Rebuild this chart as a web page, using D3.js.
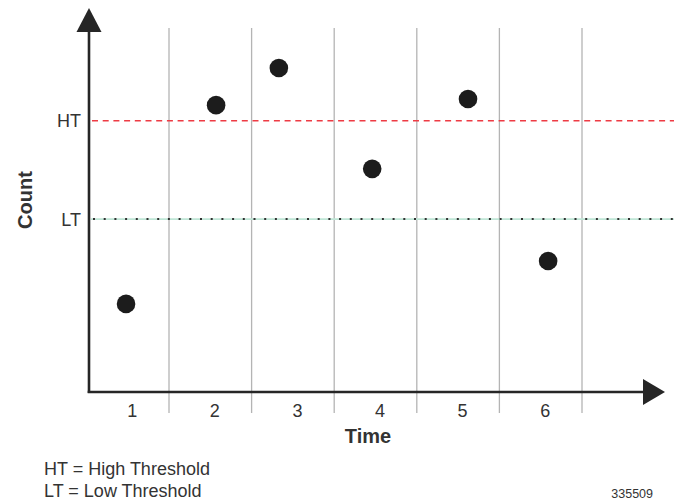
<!DOCTYPE html>
<html>
<head>
<meta charset="utf-8">
<script src="https://cdn.jsdelivr.net/npm/d3@7/dist/d3.min.js"></script>
<style>
  html, body { margin: 0; padding: 0; background: #fff; }
  svg { display: block; font-family: "Liberation Sans", Arial, sans-serif; }
</style>
</head>
<body>
<svg id="chart" width="674" height="503"></svg>
<script>
// ---- data ----
const timeLabels = [1, 2, 3, 4, 5, 6];
const times  = [0.98, 2.07, 2.83, 3.96, 5.12, 6.09];
const counts = [24.2, 78.8, 89.0, 61.3, 80.5, 36.0];
const bandEdges = [1.5, 2.5, 3.5, 4.5, 5.5, 6.5];
const highThreshold = 74.5;
const lowThreshold = 47.5;
const thresholdLabels = ["HT", "LT"];
const legendLines = ["HT = High Threshold", "LT = Low Threshold"];
const figureId = "335509";

// ---- layout ----
const svg = d3.select("#chart");
const axisX = 89, axisY = 392;
const x = d3.scaleLinear().domain([1.5, 6.5]).range([169, 582]);
const y = d3.scaleLinear().domain([0, 100]).range([axisY, 28]);
const ink = "#262626";

// vertical grid lines
svg.append("g").selectAll("line").data(bandEdges).join("line")
  .attr("x1", d => x(d)).attr("x2", d => x(d))
  .attr("y1", y(100)).attr("y2", 413)
  .attr("stroke", "#b4b4b4").attr("stroke-width", 1.3);

// threshold lines
svg.append("line")
  .attr("x1", axisX + 3).attr("x2", 674)
  .attr("y1", y(highThreshold)).attr("y2", y(highThreshold))
  .attr("stroke", "#ee3b44").attr("stroke-width", 1.6)
  .attr("stroke-dasharray", "6,4.7");
svg.append("line")
  .attr("x1", axisX + 2).attr("x2", 674)
  .attr("y1", y(lowThreshold)).attr("y2", y(lowThreshold))
  .attr("stroke", "#bfe6d6").attr("stroke-width", 1.8);
svg.append("line")
  .attr("x1", axisX + 4).attr("x2", 674)
  .attr("y1", y(lowThreshold)).attr("y2", y(lowThreshold))
  .attr("stroke", "#333").attr("stroke-width", 2)
  .attr("stroke-dasharray", "2,8.7");

// threshold labels
svg.append("g").selectAll("text").data([highThreshold, lowThreshold]).join("text")
  .attr("x", 81).attr("y", d => y(d))
  .attr("dy", "0.36em")
  .attr("text-anchor", "end")
  .attr("font-size", 18).attr("fill", "#333")
  .text((d, i) => thresholdLabels[i]);

// axes lines with arrows
svg.append("line").attr("x1", axisX).attr("x2", axisX)
  .attr("y1", axisY + 1).attr("y2", 30)
  .attr("stroke", ink).attr("stroke-width", 2.6);
svg.append("path")
  .attr("d", `M${axisX},8 L${axisX - 12.5},32 L${axisX + 12.5},32 Z`)
  .attr("fill", ink);
svg.append("line").attr("x1", axisX - 1.3).attr("x2", 645)
  .attr("y1", axisY).attr("y2", axisY)
  .attr("stroke", ink).attr("stroke-width", 2.6);
svg.append("path")
  .attr("d", `M665,${axisY} L643,${axisY - 13} L643,${axisY + 13} Z`)
  .attr("fill", ink);

// x tick labels via axis
const xAxis = d3.axisBottom(x).tickValues(timeLabels).tickSize(0).tickPadding(0)
  .tickFormat(d3.format("d"));
const gx = svg.append("g").attr("transform", `translate(4,${axisY})`).call(xAxis);
gx.select(".domain").remove();
gx.selectAll("text")
  .attr("y", 25).attr("dy", 0)
  .attr("font-size", 18).attr("fill", "#333")
  .attr("font-family", "Liberation Sans, Arial, sans-serif");

// points
svg.append("g").selectAll("circle").data(times).join("circle")
  .attr("cx", d => x(d)).attr("cy", (d, i) => y(counts[i]))
  .attr("r", 9.3).attr("fill", "#1c1c1c");

// axis titles
svg.append("text").attr("x", 368).attr("y", 443)
  .attr("text-anchor", "middle").attr("font-weight", "bold")
  .attr("font-size", 20).attr("fill", "#333").text("Time");
svg.append("text")
  .attr("transform", "translate(32,200) rotate(-90)")
  .attr("text-anchor", "middle").attr("font-weight", "bold")
  .attr("font-size", 20).attr("fill", "#333").text("Count");

// legend
svg.append("g").selectAll("text").data(legendLines).join("text")
  .attr("x", 44).attr("y", (d, i) => 475 + i * 21.7)
  .attr("font-size", 18).attr("fill", "#333")
  .text(d => d);

svg.append("text").attr("x", 653).attr("y", 498)
  .attr("text-anchor", "end").attr("font-size", 12.5).attr("fill", "#333")
  .text(figureId);
</script>
</body>
</html>
